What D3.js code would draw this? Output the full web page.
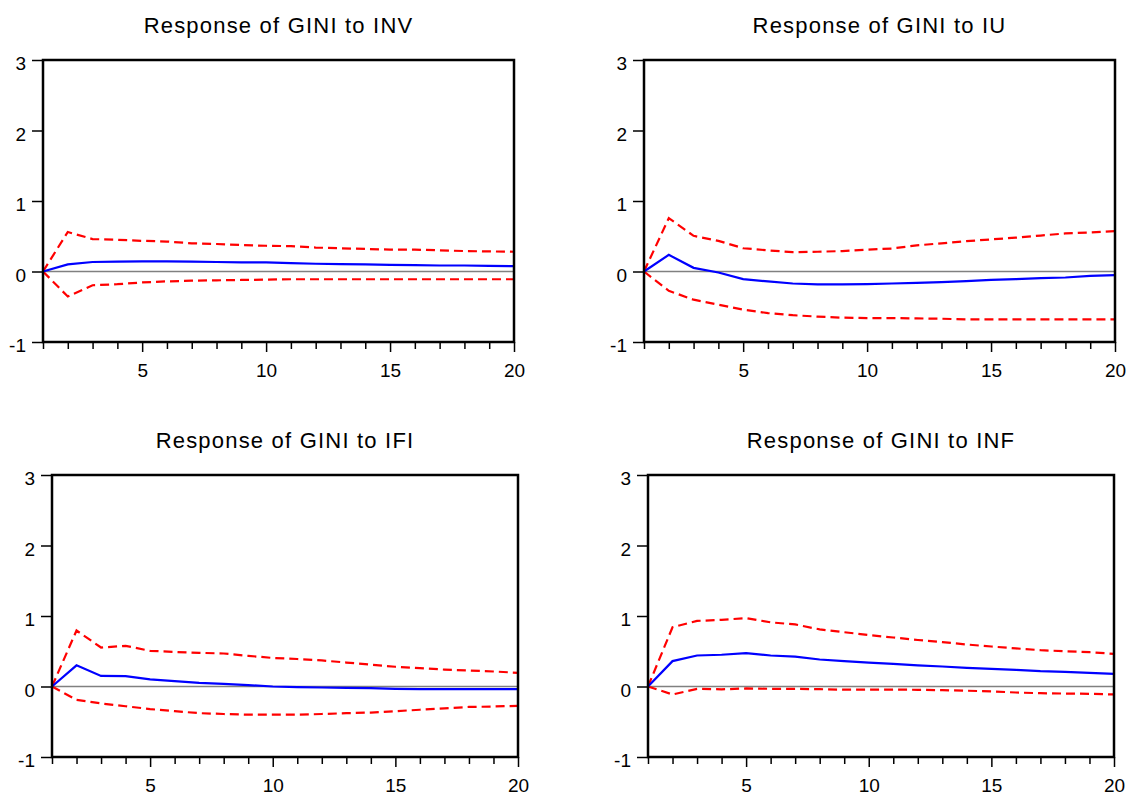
<!DOCTYPE html>
<html>
<head>
<meta charset="utf-8">
<script src="https://cdn.jsdelivr.net/npm/d3@7"></script>
<style>
  body { margin: 0; background: #fff; }
  text { font-family: "Liberation Sans", Arial, sans-serif; fill: #000; }
</style>
</head>
<body>
<script>
// periods 1..20
const periods = d3.range(1, 21);
const yTicks = [-1, 0, 1, 2, 3];
const xTickLabels = [5, 10, 15, 20];

// titles
const titles = ['Response of GINI to INV', 'Response of GINI to IU', 'Response of GINI to IFI', 'Response of GINI to INF'];

// response of GINI to INV
const invResp  = [0, 0.10, 0.135, 0.14, 0.145, 0.145, 0.14, 0.135, 0.13, 0.13, 0.12, 0.11, 0.105, 0.10, 0.095, 0.09, 0.085, 0.085, 0.08, 0.075];
const invUpper = [0, 0.56, 0.46, 0.45, 0.435, 0.425, 0.40, 0.39, 0.375, 0.365, 0.36, 0.34, 0.33, 0.32, 0.31, 0.31, 0.30, 0.29, 0.285, 0.28];
const invLower = [0, -0.355, -0.195, -0.18, -0.155, -0.14, -0.13, -0.125, -0.12, -0.115, -0.11, -0.11, -0.11, -0.11, -0.11, -0.11, -0.11, -0.11, -0.11, -0.11];

// response of GINI to IU
const iuResp  = [0, 0.236, 0.052, -0.014, -0.109, -0.14, -0.17, -0.184, -0.184, -0.178, -0.17, -0.16, -0.15, -0.137, -0.118, -0.109, -0.095, -0.085, -0.061, -0.052];
const iuUpper = [0, 0.757, 0.506, 0.435, 0.33, 0.30, 0.275, 0.28, 0.29, 0.31, 0.326, 0.37, 0.40, 0.43, 0.455, 0.48, 0.51, 0.54, 0.553, 0.572];
const iuLower = [0, -0.274, -0.40, -0.47, -0.54, -0.59, -0.62, -0.64, -0.655, -0.66, -0.66, -0.665, -0.67, -0.68, -0.68, -0.68, -0.68, -0.68, -0.68, -0.68];

// response of GINI to IFI
const ifiResp  = [0, 0.30, 0.15, 0.147, 0.10, 0.076, 0.052, 0.038, 0.02, 0.0, -0.01, -0.014, -0.019, -0.024, -0.033, -0.038, -0.038, -0.038, -0.038, -0.038];
const ifiUpper = [0, 0.794, 0.553, 0.577, 0.506, 0.49, 0.478, 0.468, 0.435, 0.405, 0.39, 0.37, 0.34, 0.31, 0.28, 0.26, 0.24, 0.227, 0.213, 0.194];
const ifiLower = [0, -0.19, -0.24, -0.28, -0.32, -0.35, -0.378, -0.39, -0.40, -0.40, -0.40, -0.39, -0.378, -0.37, -0.35, -0.33, -0.31, -0.29, -0.284, -0.274];

// response of GINI to INF
const infResp  = [0, 0.36, 0.44, 0.45, 0.473, 0.44, 0.425, 0.383, 0.36, 0.34, 0.32, 0.30, 0.284, 0.265, 0.25, 0.236, 0.217, 0.208, 0.194, 0.18];
const infUpper = [0, 0.84, 0.93, 0.946, 0.97, 0.91, 0.88, 0.81, 0.77, 0.73, 0.695, 0.66, 0.63, 0.596, 0.567, 0.54, 0.515, 0.50, 0.487, 0.463];
const infLower = [0, -0.113, -0.033, -0.04, -0.028, -0.033, -0.033, -0.038, -0.045, -0.045, -0.043, -0.047, -0.052, -0.06, -0.07, -0.085, -0.095, -0.10, -0.104, -0.113];

const series = [
  [invResp, invUpper, invLower],
  [iuResp, iuUpper, iuLower],
  [ifiResp, ifiUpper, ifiLower],
  [infResp, infUpper, infLower]
];

// panel frames
const width = 1126, height = 796;
const frames = [
  { left: 43, right: 514, top: 60, bottom: 342 },
  { left: 644, right: 1115, top: 60, bottom: 342 },
  { left: 52, right: 518, top: 475, bottom: 757 },
  { left: 648, right: 1114, top: 475, bottom: 757 }
];

const svg = d3.select('body').append('svg')
  .attr('width', width).attr('height', height);

frames.forEach((f, i) => {
  const g = svg.append('g');

  const xScale = d3.scaleLinear().domain([1, 20]).range([f.left, f.right]);
  const yScale = d3.scaleLinear().domain([-1, 3]).range([f.bottom, f.top]);

  // title
  g.append('text')
    .attr('x', (f.left + f.right) / 2).attr('y', f.top - 27)
    .attr('text-anchor', 'middle').attr('font-size', 22)
    .attr('letter-spacing', 1.2)
    .text(titles[i]);

  // zero line
  g.append('line')
    .attr('x1', f.left).attr('x2', f.right)
    .attr('y1', yScale(0)).attr('y2', yScale(0))
    .attr('stroke', '#808080').attr('stroke-width', 1.5);

  // y axis
  const yAxis = g.append('g')
    .attr('transform', `translate(${f.left},0)`)
    .call(d3.axisLeft(yScale).tickValues(yTicks).tickSize(11).tickPadding(6).tickFormat(d => String(d)));
  yAxis.select('.domain').remove();
  yAxis.selectAll('line').attr('stroke', '#000').attr('stroke-width', 1.5);
  yAxis.selectAll('text').attr('font-size', 19).attr('dy', '0.5em')
    .style('font-family', '"Liberation Sans", Arial, sans-serif');

  // x axis
  const xAxis = g.append('g')
    .attr('transform', `translate(0,${f.bottom})`)
    .call(d3.axisBottom(xScale).tickValues(periods).tickSize(7).tickPadding(15)
      .tickFormat(d => xTickLabels.includes(d) ? d : ''));
  xAxis.select('.domain').remove();
  xAxis.selectAll('line').attr('stroke', '#000').attr('stroke-width', 1.5)
    .attr('y2', d => xTickLabels.includes(d) ? 10 : 7);
  xAxis.selectAll('text').attr('font-size', 19)
    .style('font-family', '"Liberation Sans", Arial, sans-serif');

  const line = d3.line()
    .x((d, j) => xScale(periods[j]))
    .y(d => yScale(d));

  const [resp, upper, lower] = series[i];

  g.append('path').datum(upper).attr('d', line)
    .attr('fill', 'none').attr('stroke', '#ff0000').attr('stroke-width', 2.2)
    .attr('stroke-dasharray', '9,5');
  g.append('path').datum(lower).attr('d', line)
    .attr('fill', 'none').attr('stroke', '#ff0000').attr('stroke-width', 2.2)
    .attr('stroke-dasharray', '9,5');
  g.append('path').datum(resp).attr('d', line)
    .attr('fill', 'none').attr('stroke', '#0000ff').attr('stroke-width', 2.2);

  // frame
  g.append('rect')
    .attr('x', f.left).attr('y', f.top)
    .attr('width', f.right - f.left).attr('height', f.bottom - f.top)
    .attr('fill', 'none').attr('stroke', '#000').attr('stroke-width', 2.5);
});
</script>
</body>
</html>
